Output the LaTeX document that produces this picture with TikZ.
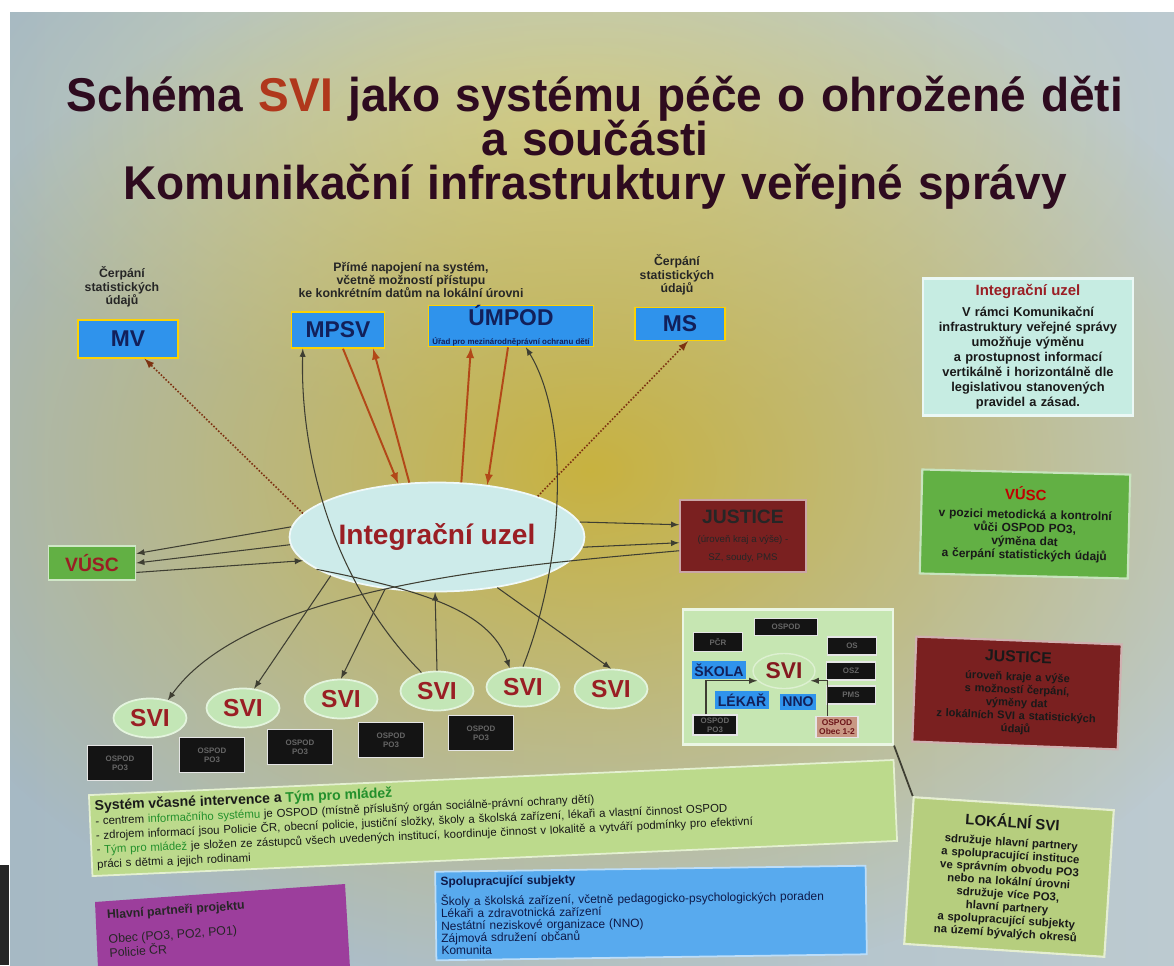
\documentclass[tikz,border=0pt]{standalone}
\usepackage{fontspec}
\setmainfont{Liberation Sans}
\usetikzlibrary{shapes.geometric,fadings}

\definecolor{bgleft}{HTML}{A6B9C4}
\definecolor{bgright}{HTML}{BCCAD0}
\definecolor{posteryel}{HTML}{C8B240}
\definecolor{posterpale}{HTML}{D4D6A4}
\definecolor{titledark}{HTML}{2E0B1F}
\definecolor{titlered}{HTML}{B0381C}
\definecolor{boxblue}{HTML}{2F93EC}
\definecolor{textnavy}{HTML}{12205A}
\definecolor{uzelfill}{HTML}{CDEBEA}
\definecolor{uzelred}{HTML}{9A1E24}
\definecolor{vuscgreen}{HTML}{62B044}
\definecolor{justred}{HTML}{7A2020}
\definecolor{svigreen}{HTML}{C3E6B6}
\definecolor{lokgreen}{HTML}{C6E6B2}
\definecolor{iupanel}{HTML}{C6ECE2}
\definecolor{lokpanel}{HTML}{B6CE7E}
\definecolor{intgreen}{HTML}{BCDA8C}
\definecolor{textgreen}{HTML}{23902C}
\definecolor{partpurple}{HTML}{9C3E9C}
\definecolor{spolublue}{HTML}{58AAEE}
\definecolor{arrowred}{HTML}{B24818}
\definecolor{linegray}{HTML}{3E3E32}
\definecolor{ospodpink}{HTML}{C99884}

\newcommand{\titlefont}{\bfseries\fontsize{27}{25}\selectfont\setlength{\lineskiplimit}{-20pt}\relax}

\tikzfading[name=glowfade,inner color=transparent!0,outer color=transparent!100]

\tikzset{
  title/.style={align=center,text width=23.5cm,text=titledark,font=\titlefont,xscale=0.97},
  toplabel/.style={align=center,text=black!85,font=\bfseries\fontsize{7}{7.6}\selectfont},
  bluebox/.style={draw=yellow!70!orange,line width=0.8pt,fill=boxblue,text=textnavy,font=\bfseries\fontsize{13}{13}\selectfont,inner sep=0pt},
  svi/.style={ellipse,draw=white!55!svigreen,line width=1pt,fill=svigreen,text=uzelred,font=\bfseries\fontsize{14}{14}\selectfont,minimum width=1.46cm,minimum height=0.78cm,inner sep=0pt},
  ospodbox/.style={draw=white!80!gray,line width=0.8pt,fill=black!92,text=black!60,font=\bfseries\fontsize{4.5}{5}\selectfont,align=center,inner sep=0pt},
  lokblue/.style={fill=boxblue,text=textnavy,font=\bfseries\fontsize{8}{8}\selectfont,inner sep=1.5pt,minimum height=0.33cm},
  panel/.style={fill=#1,draw=white!65!#1,line width=1.2pt,align=center,inner sep=3pt,text=black!90},
  conn/.style={draw=linegray,line width=0.6pt,-latex},
  redconn/.style={draw=arrowred,line width=1.1pt,-latex},
  dotconn/.style={draw=arrowred!70!black,densely dotted,line width=0.9pt,-latex}
}

\begin{document}
\begin{tikzpicture}[x=0.02cm,y=-0.02cm]
  \useasboundingbox (0,0) rectangle (1174,965);
  \fill[white] (0,0) rectangle (1174,965);
  \begin{scope}
    \clip (10,12) rectangle (1174,965);
    \shade[left color=bgleft,right color=bgright] (10,12) rectangle (1174,965);
    \fill[posterpale,path fading=glowfade] (560,130) ellipse (620 and 300);
    \fill[posteryel,path fading=glowfade] (590,470) ellipse (720 and 520);
  \end{scope}
  \fill[black!85] (0,865) rectangle (9,965);

  \node[title] (title) at (595,143) {Schéma \textcolor{titlered}{SVI} jako systému péče o ohrožené děti\\a součásti\\Komunikační infrastruktury veřejné správy};

  \node[toplabel] (mvnote) at (122,287) {Čerpání\\statistických\\údajů};
  \node[toplabel] (mpsvnote) at (411,280) {Přímé napojení na systém,\\včetně možností přístupu\\ke konkrétním datům na lokální úrovni};
  \node[toplabel] (msnote) at (677,275) {Čerpání\\statistických\\údajů};

  \node[bluebox,minimum width=2cm,minimum height=0.76cm] (mv) at (128,339) {MV};
  \node[bluebox,minimum width=1.86cm,minimum height=0.72cm] (mpsv) at (338,330) {MPSV};
  \node[bluebox,minimum width=3.3cm,minimum height=0.74cm,align=center] (umpod) at (511,326) {ÚMPOD\\[-2pt]{\fontsize{4.5}{5}\selectfont Úřad pro mezinárodněprávní ochranu dětí}};
  \node[bluebox,minimum width=1.8cm,minimum height=0.66cm] (ms) at (680,324) {MS};

  \node[ellipse,fill=uzelfill,draw=white!70!uzelfill,line width=1pt,minimum width=4.9cm,minimum height=2.18cm,text=uzelred,font=\bfseries\fontsize{16}{16}\selectfont] (uzel) at (437,537) {Integrační uzel};
  \node[draw=white!70!vuscgreen,line width=1pt,fill=vuscgreen,text=uzelred,font=\bfseries\fontsize{11}{11}\selectfont,minimum width=1.74cm,minimum height=0.68cm] (vusc) at (92,563) {VÚSC};
  \node[draw=white!60!justred,line width=1pt,fill=justred,text=black!85,align=center,minimum width=2.52cm,minimum height=1.44cm] (justice) at (743,536) {{\bfseries\fontsize{11}{12}\selectfont JUSTICE}\\[-1pt]{\fontsize{5.5}{6.5}\selectfont (úroveň kraj a výše) -}\\[-2pt]{\fontsize{5.5}{6.5}\selectfont SZ, soudy, PMS}};

  \foreach \n/\x/\y in {1/150/718,2/243/708,3/341/699,4/437/691,5/523/687,6/611/689}
    \node[svi] (svi\n) at (\x,\y) {SVI};
  \foreach \n/\x/\y in {1/120/763,2/212/755,3/300/747,4/391/740,5/481/733}
    \node[ospodbox,minimum width=1.3cm,minimum height=0.7cm] (ospod\n) at (\x,\y) {OSPOD\\PO3};

  \draw[dotconn] (uzel.170) -- (mv.-50);
  \draw[dotconn] (uzel.22) -- (ms.-65);
  \draw[redconn] (mpsv.-75) -- (uzel.126);
  \draw[redconn] (uzel.117) -- (mpsv.-28);
  \draw[redconn] (uzel.66) -- (umpod.208);
  \draw[redconn] (umpod.262) -- (uzel.46);
  \draw[conn] (uzel.176) -- (vusc.12);
  \draw[conn] (uzel.183) -- (vusc.0);
  \draw[conn] (vusc.-12) -- (uzel.190);
  \draw[conn] (uzel.6) -- (justice.170);
  \draw[conn] (uzel.-4) -- (justice.186);
  \draw[conn] (justice.193) .. controls (520,565) and (250,585) .. (svi1.45);
  \draw[conn] (uzel.200) -- (svi2.60);
  \draw[conn] (uzel.225) -- (svi3.north);
  \draw[conn] (svi4.130) .. controls (330,580) and (300,450) .. (mpsv.208);
  \draw[conn] (svi4.north) -- (uzel.268);
  \draw[conn] (uzel.195) .. controls (420,590) and (490,610) .. (svi5.125);
  \draw[conn] (svi5.north) .. controls (565,560) and (570,420) .. (umpod.-55);
  \draw[conn] (uzel.-40) -- (svi6.north);

  \node[panel=iupanel,text width=4.0cm,minimum height=2.74cm,font=\bfseries\fontsize{7.3}{8.6}\selectfont] (iupanel) at (1028,347) {\textcolor{uzelred}{\fontsize{8.5}{10}\selectfont Integrační uzel}\\[3pt] V rámci Komunikační\\infrastruktury veřejné správy\\umožňuje výměnu\\a prostupnost informací\\vertikálně i horizontálně dle\\legislativou stanovených\\pravidel a zásad.};
  \node[panel=vuscgreen,rotate=-1.4,text width=3.95cm,minimum height=2.08cm,font=\bfseries\fontsize{6.8}{7.6}\selectfont] (vuscpanel) at (1025,524) {\textcolor{red!75!black}{\fontsize{8.5}{10}\selectfont VÚSC}\\[3pt] v pozici metodická a kontrolní\\vůči OSPOD PO3,\\výměna dat\\a čerpání statistických údajů};
  \node[panel=justred,rotate=-2.2,text width=3.9cm,minimum height=2.1cm,text=black!90,font=\bfseries\fontsize{6.3}{7.4}\selectfont] (justicepanel) at (1017,693) {{\fontsize{9}{10}\selectfont JUSTICE}\\[3pt] úroveň kraje a výše\\s možností čerpání,\\výměny dat\\z lokálních SVI a statistických\\údajů};
  \node[panel=lokpanel,rotate=-3.7,text width=3.8cm,minimum height=2.94cm,font=\bfseries\fontsize{6.5}{7.4}\selectfont] (lokalni) at (1009,877) {{\fontsize{8.5}{10}\selectfont LOKÁLNÍ SVI}\\[3pt] sdružuje hlavní partnery\\a spolupracující instituce\\ve správním obvodu PO3\\nebo na lokální úrovni\\sdružuje více PO3,\\hlavní partnery\\a spolupracující subjekty\\na území bývalých okresů};

  \node[panel=lokgreen,minimum width=4.2cm,minimum height=2.7cm] (lokal) at (788,677) {};
  \node[ospodbox,minimum width=1.26cm,minimum height=0.34cm] (lokospod) at (786,627) {OSPOD};
  \node[ospodbox,minimum width=0.98cm,minimum height=0.38cm] (pcr) at (718,642) {PČR};
  \node[ospodbox,minimum width=0.98cm,minimum height=0.36cm] (os) at (852,646) {OS};
  \node[ospodbox,minimum width=0.98cm,minimum height=0.36cm] (osz) at (851,671) {OSZ};
  \node[ospodbox,minimum width=0.98cm,minimum height=0.36cm] (pms) at (851,695) {PMS};
  \node[lokblue] (skola) at (719,670) {ŠKOLA};
  \node[lokblue] (lekar) at (742,700) {LÉKAŘ};
  \node[lokblue] (nno) at (798,702) {NNO};
  \node[ellipse,draw=white!40!lokgreen,line width=0.8pt,minimum width=1.24cm,minimum height=0.7cm,inner sep=0pt,text=uzelred!85!black,font=\bfseries\fontsize{13}{13}\selectfont] (lsvi) at (784,671) {SVI};
  \node[ospodbox,minimum width=0.88cm,minimum height=0.4cm] (lokpo3) at (715,725) {OSPOD\\PO3};
  \node[ospodbox,fill=ospodpink,text=uzelred!70!black,minimum width=0.84cm,minimum height=0.42cm,font=\bfseries\fontsize{4.8}{5.2}\selectfont] (obec) at (837,727) {OSPOD\\Obec 1-2};
  \draw[conn] (lokpo3.130) |- (lsvi.200);
  \draw[conn] (obec.130) |- (lsvi.-20);
  \draw[draw=linegray,line width=1pt] (lokal.south east) -- (lokalni.north west);

  \node[rotate=2.5,fill=intgreen,draw=white!60!intgreen,line width=1pt,text width=15.9cm,inner sep=3pt,align=left,font=\fontsize{6.5}{8.2}\selectfont,text=black!90] (intervence) at (493,818) {{\bfseries\fontsize{8}{8}\selectfont Systém včasné intervence a \textcolor{textgreen}{Tým pro mládež}}\\
  - centrem \textcolor{textgreen}{informačního systému} je OSPOD (místně příslušný orgán sociálně-právní ochrany dětí)\\
  - zdrojem informací jsou Policie ČR, obecní policie, justiční složky, školy a školská zařízení, lékaři a vlastní činnost OSPOD\\
  - \textcolor{textgreen}{Tým pro mládež} je složen ze zástupců všech uvedených institucí, koordinuje činnost v lokalitě a vytváří podmínky pro efektivní\\
  práci s dětmi a jejich rodinami};

  \fill[partpurple] (95,902) -- (345,884) -- (350,968) -- (98,968) -- cycle;
  \node[rotate=4,anchor=north west,align=left,text=black!85,font=\fontsize{7}{8}\selectfont] (partneri) at (100,904) {{\bfseries Hlavní partneři projektu}\\[6pt]Obec (PO3, PO2, PO1)\\Policie ČR};

  \node[fill=spolublue,draw=white!60!spolublue,line width=1pt,rotate=0.8,text width=8.4cm,minimum height=1.62cm,inner sep=3pt,align=left,text=textnavy!80!black,font=\fontsize{6.8}{7}\selectfont] (spolu) at (651,913) {{\bfseries Spolupracující subjekty}\\[3pt]Školy a školská zařízení, včetně pedagogicko-psychologických poraden\\Lékaři a zdravotnická zařízení\\Nestátní neziskové organizace (NNO)\\Zájmová sdružení občanů\\Komunita};
\end{tikzpicture}
\end{document}
